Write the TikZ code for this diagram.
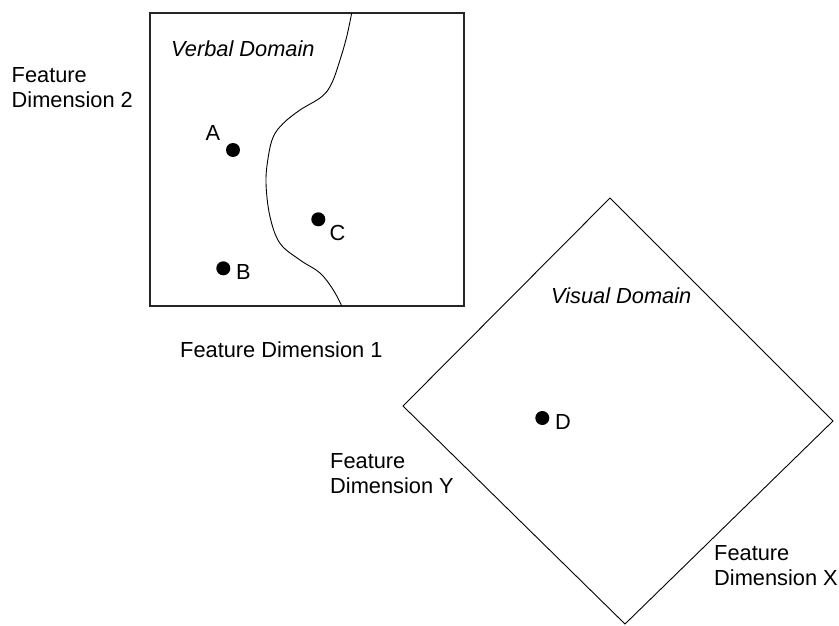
\documentclass[tikz,border=0pt]{standalone}
\usepackage{fontspec}
\setmainfont{Liberation Sans}
\begin{document}
\begin{tikzpicture}[x=1pt,y=-1pt,
  lbl/.style={inner sep=0pt, font=\fontsize{21.8}{25}\selectfont, align=left},
  ilbl/.style={lbl, font=\fontsize{21.8}{25}\selectfont\itshape},
  frame/.style={draw=black!85, line width=1.3pt},
  thin/.style={draw=black, line width=0.9pt},
  dot/.style={circle, fill=black, inner sep=0pt, minimum size=14pt}]
\useasboundingbox (0,0) rectangle (839,626);
% verbal domain square
\draw[frame] (150,13) rectangle (464,306);
\draw[thin] plot[smooth, tension=0.6] coordinates {(351.7,13) (346.7,36.7) (340,60) (331.7,83.3) (321.7,96.7) (300,110) (283.3,123.3) (273.3,136.7) (268.3,156.7) (266,183) (270,216.7) (280,243.3) (300,260) (320,273) (333.3,290) (341.7,306)};
\node[ilbl, anchor=base west] (verbal) at (171,56.5) {Verbal Domain};
\node[dot] (A) at (233,150) {};
\node[dot] (B) at (223.3,268.3) {};
\node[dot] (C) at (318.3,219.3) {};
\node[lbl, anchor=base west] (la) at (205.5,140) {A};
\node[lbl, anchor=base west] (lb) at (236,279) {B};
\node[lbl, anchor=base west] (lc) at (329.5,240.5) {C};
\node[lbl, anchor=base west] (fd2) at (11.5,107.5) {Feature\\Dimension 2};
\node[lbl, anchor=base west] (fd1) at (180,357) {Feature Dimension 1};
% visual domain diamond
\coordinate (vt) at (610,198);
\coordinate (vr) at (833,421);
\coordinate (vb) at (625,624);
\coordinate (vl) at (403,406);
\draw[thin] (vt) -- (vr) -- (vb) -- (vl) -- cycle;
\node[ilbl, anchor=base west] (visual) at (551,303) {Visual Domain};
\node[dot] (D) at (542.3,418) {};
\node[lbl, anchor=base west] (ld) at (555,429) {D};
\node[lbl, anchor=base west] (fdy) at (330,493) {Feature\\Dimension Y};
\node[lbl, anchor=base west] (fdx) at (714,585) {Feature\\Dimension X};
\end{tikzpicture}
\end{document}
